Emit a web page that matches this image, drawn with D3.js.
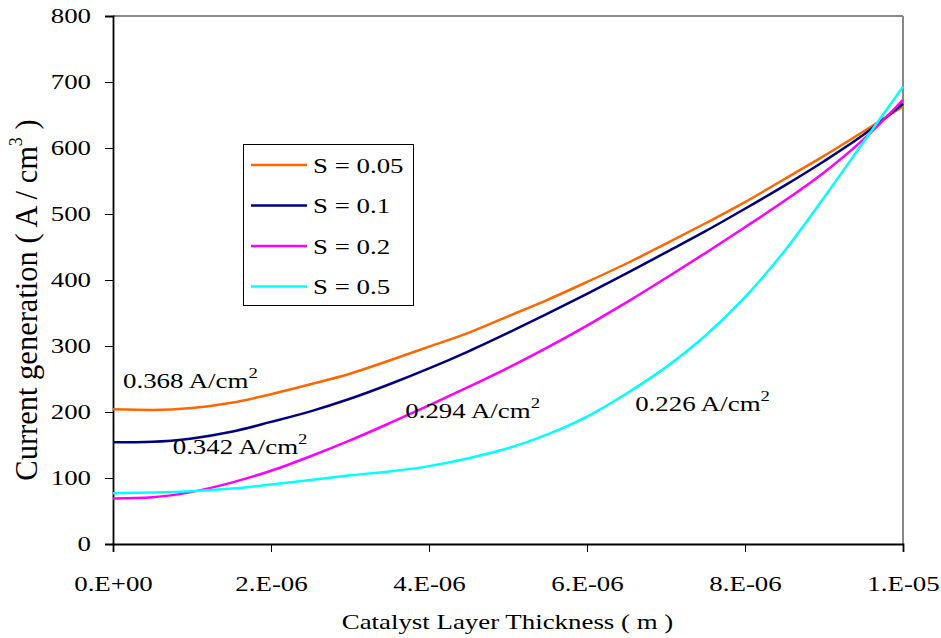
<!DOCTYPE html>
<html>
<head>
<meta charset="utf-8">
<script src="https://cdn.jsdelivr.net/npm/d3@7"></script>
<style>
  html, body { margin: 0; padding: 0; background: #fff; }
  svg { display: block; }
  svg text { font-family: "Liberation Serif", "Times New Roman", Times, serif !important; fill: #000; }
</style>
</head>
<body>
<svg id="chart" width="941" height="638"></svg>
<script>
// Catalyst layer thickness (micrometres, scaled to metres below)
const thicknessUm = [0, 0.5, 1, 1.5, 2, 2.5, 3, 3.5, 4, 4.5, 5, 5.5, 6, 6.5, 7, 7.5, 8, 8.5, 9, 9.5, 10];

// Current generation (A / cm^3) for each saturation level
const s005 = [204, 203, 206, 214, 227, 242, 258, 278, 299, 320, 345, 370, 397, 425, 455, 486, 518, 553, 588, 625, 663];
const s01  = [154, 155, 160, 170, 185, 201, 220, 242, 266, 292, 320, 349, 379, 410, 442, 474, 508, 543, 580, 620, 667];
const s02  = [69, 71, 79, 93, 111, 133, 157, 183, 210, 238, 267, 298, 331, 366, 403, 441, 480, 520, 563, 613, 673];
const s05  = [77, 78, 80, 84, 90, 97, 104, 110, 118, 130, 145, 166, 193, 228, 268, 316, 374, 444, 525, 609, 693];

const seriesNames = ["S = 0.05", "S = 0.1", "S = 0.2", "S = 0.5"];
const seriesColors = ["#FF6600", "#000080", "#FF00FF", "#00FFFF"];
const seriesValues = [s005, s01, s02, s05];

// Current density annotations: [text, x (m), y (A/cm^3)]
const annotations = [
  ["0.368 A/cm", 0.127e-6, 236.4],
  ["0.342 A/cm", 0.756e-6, 136.4],
  ["0.294 A/cm", 3.70e-6, 190.9],
  ["0.226 A/cm", 6.61e-6, 201.5]
];

const xTicks = [0, 2e-6, 4e-6, 6e-6, 8e-6, 1e-5];
const xTickLabels = ["0.E+00", "2.E-06", "4.E-06", "6.E-06", "8.E-06", "1.E-05"];
const yTicks = [0, 100, 200, 300, 400, 500, 600, 700, 800];

const svg = d3.select("#chart");
const plotLeft = 113, plotRight = 903, plotTop = 16, plotBottom = 544;
const FS = 21.5;      // body text size
const SX = 1.25;      // horizontal widening of the serif face

const x = d3.scaleLinear().domain([0, 1e-5]).range([plotLeft, plotRight]);
const y = d3.scaleLinear().domain([0, 800]).range([plotBottom, plotTop]);

// Widen a text element horizontally about its own anchor point
function widen(sel) {
  sel.each(function () {
    const t = d3.select(this);
    const x0 = +t.attr("x") || 0;
    t.attr("x", x0 / SX).attr("transform", `scale(${SX},1)`);
  });
}

// Plot frame: grey top/right, black axes
svg.append("line").attr("x1", plotLeft).attr("x2", plotRight).attr("y1", plotTop).attr("y2", plotTop)
  .attr("stroke", "#888").attr("stroke-width", 2);
svg.append("line").attr("x1", plotRight).attr("x2", plotRight).attr("y1", plotTop).attr("y2", plotBottom)
  .attr("stroke", "#888").attr("stroke-width", 2);

// Axes
const xAxis = d3.axisBottom(x).tickValues(xTicks).tickSize(8).tickPadding(24)
  .tickFormat((d, i) => xTickLabels[i]);
const gx = svg.append("g").attr("transform", `translate(0,${plotBottom})`).call(xAxis);
gx.select(".domain").attr("stroke", "#000").attr("stroke-width", 1.8);
gx.selectAll(".tick line").attr("stroke", "#000").attr("stroke-width", 1);
gx.selectAll(".tick text").attr("font-size", FS).attr("fill", "#000").call(widen);

const yAxis = d3.axisLeft(y).tickValues(yTicks).tickSize(8).tickPadding(14);
const gy = svg.append("g").attr("transform", `translate(${plotLeft},0)`).call(yAxis);
gy.select(".domain").attr("stroke", "#000").attr("stroke-width", 1.8);
gy.selectAll(".tick line").attr("stroke", "#000").attr("stroke-width", 1);
gy.selectAll(".tick text").attr("font-size", FS).attr("fill", "#000").call(widen);

// Series curves
const line = d3.line()
  .x((d, i) => x(thicknessUm[i] * 1e-6))
  .y(d => y(d))
  .curve(d3.curveMonotoneX);

seriesValues.forEach((vals, k) => {
  svg.append("path")
    .datum(vals)
    .attr("d", line)
    .attr("fill", "none")
    .attr("stroke", seriesColors[k])
    .attr("stroke-width", 2.5);
});

// Annotations with superscript
annotations.forEach(([t, xv, yv]) => {
  const tx = svg.append("text").attr("x", x(xv)).attr("y", y(yv)).attr("font-size", FS);
  tx.append("tspan").text(t);
  tx.append("tspan").attr("font-size", 15).attr("dy", -10).text("2");
  tx.call(widen);
});

// Legend
const lg = svg.append("g");
lg.append("rect").attr("x", 243.5).attr("y", 144.5).attr("width", 170).attr("height", 161)
  .attr("fill", "#fff").attr("stroke", "#000").attr("stroke-width", 1);
seriesNames.forEach((name, k) => {
  const ly = 165 + k * 40.5;
  lg.append("line").attr("x1", 251).attr("x2", 307).attr("y1", ly).attr("y2", ly)
    .attr("stroke", seriesColors[k]).attr("stroke-width", 2.5);
  lg.append("text").attr("x", 313).attr("y", ly + 8).attr("font-size", FS).text(name).call(widen);
});

// Axis titles
svg.append("text").attr("x", 507.5).attr("y", 629).attr("text-anchor", "middle")
  .attr("font-size", FS).text("Catalyst Layer Thickness ( m )").call(widen);

const yt = svg.append("text").attr("transform", "translate(37,300) rotate(-90)")
  .attr("text-anchor", "middle").attr("font-size", 30.5);
yt.append("tspan").text("Current generation ( A / cm");
yt.append("tspan").attr("font-size", 18).attr("dy", -15).text("3");
yt.append("tspan").attr("dy", 15).text(" )");
</script>
</body>
</html>
